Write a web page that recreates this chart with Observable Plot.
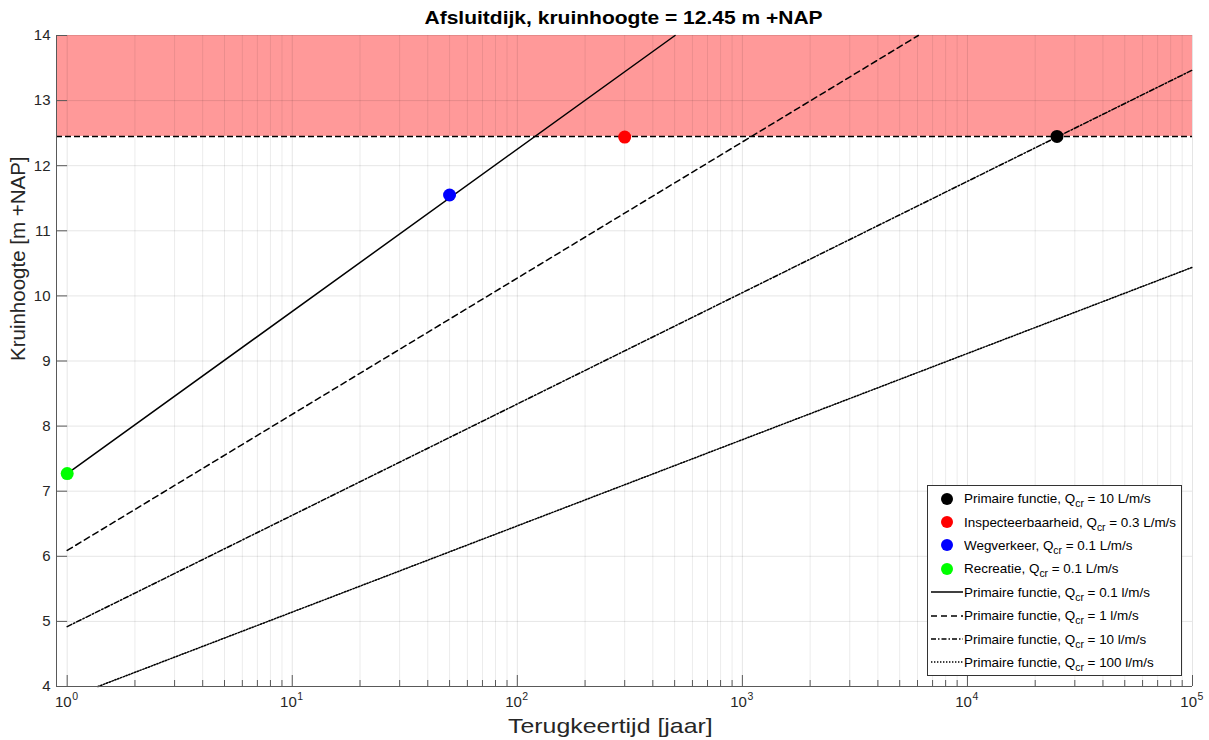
<!DOCTYPE html>
<html>
<head>
<meta charset="utf-8">
<script src="https://cdn.jsdelivr.net/npm/d3@7"></script>
<script src="https://cdn.jsdelivr.net/npm/@observablehq/plot@0.6"></script>
<style>
  html, body { margin: 0; padding: 0; background: #fff; }
  #wrap { position: relative; width: 1209px; height: 740px; overflow: hidden; font-family: "Liberation Sans", Arial, Helvetica, sans-serif; }
  #legend { position: absolute; left: 927px; top: 485px; width: 255px; height: 191px; border: 1px solid #333; background: #fff; box-sizing: border-box; padding-top: 1px; overflow: hidden; }
  .row { height: 23.4px; display: flex; align-items: center; font-size: 13px; color: #000; white-space: nowrap; }
  .row svg { flex: 0 0 auto; margin-left: 2px; margin-right: 0px; }
  .row span { display: inline-block; transform-origin: left center; }
  .row sub { font-size: 10px; vertical-align: -4px; line-height: 0; }
  .hlabel { position: absolute; white-space: nowrap; transform-origin: center center; }
  #title { top: 8px; font-size: 18px; font-weight: bold; line-height: 20px; color: #000; }
  #xlabel { top: 714px; font-size: 21px; line-height: 24px; color: #262626; }
</style>
</head>
<body>
<div id="wrap"></div>
<script>
// ---- data ----
const title = "Afsluitdijk, kruinhoogte = 12.45 m +NAP";
const xLabel = "Terugkeertijd [jaar]";
const yLabel = "Kruinhoogte [m +NAP]";
const crestHeight = 12.45;

const xDomain = [0.8963, 1e5];
const yDomain = [4, 14];
const xMajorTicks = [1, 10, 100, 1000, 10000, 100000];
const xTickExponents = ["0", "1", "2", "3", "4", "5"];
const yTicks = [4, 5, 6, 7, 8, 9, 10, 11, 12, 13, 14];

// scatter points (norm points)
const pointNames = ["Primaire functie", "Inspecteerbaarheid", "Wegverkeer", "Recreatie"];
const pointQcr = ["10 L/m/s", "0.3 L/m/s", "0.1 L/m/s", "0.1 L/m/s"];
const pointT = [25000, 300, 50, 1];
const pointH = [12.45, 12.44, 11.55, 7.27];
const pointColors = ["#000000", "#ff0000", "#0000ff", "#00ff00"];

const lineQcr = ["0.1 l/m/s", "1 l/m/s", "10 l/m/s", "100 l/m/s"];
const lineStartT = [1, 1, 1, 1.37];
const lineStartH = [7.27, 6.09, 4.92, 4.0];
const lineEndT = [502, 6050, 100000, 100000];
const lineEndH = [14.0, 14.0, 13.47, 10.44];
const lineDash = ["none", "6,4", "5,2,1.5,2", "1.4,1.6"];

// ---- build tables ----
const xMinorTicks = [];
for (let k = 0; k < 5; k++) for (let m = 2; m <= 9; m++) xMinorTicks.push(m * Math.pow(10, k));

const points = pointNames.map((n, i) => ({name: n, T: pointT[i], H: pointH[i]}));
const lines = lineQcr.map((q, i) => [
  {q, T: lineStartT[i], H: lineStartH[i]},
  {q, T: lineEndT[i], H: lineEndH[i]}
]);

const W = 1209, H = 740;
const mT = 35, mB = 54, mL = 56, mR = 17;
const frameW = W - mL - mR, frameH = H - mT - mB;
const axisColor = "#595959";
const textColor = "#262626";

const lineMarks = lines.map((d, i) => Plot.line(d, {
  x: "T", y: "H", stroke: "#000", strokeWidth: 1.5,
  strokeDasharray: lineDash[i] === "none" ? null : lineDash[i]
}));

const chart = Plot.plot({
  width: W, height: H,
  marginTop: mT, marginBottom: mB, marginLeft: mL, marginRight: mR,
  x: {type: "log", domain: xDomain, axis: null},
  y: {domain: yDomain, axis: null},
  color: {domain: pointNames, range: pointColors},
  style: {fontFamily: "'Liberation Sans', Arial, Helvetica, sans-serif", background: "#fff", overflow: "visible", color: textColor},
  marks: [
    // unsafe zone above crest height
    Plot.rect([{y1: crestHeight, y2: yDomain[1]}], {y1: "y1", y2: "y2", fill: "#ff9999"}),
    // grid
    Plot.ruleX(xMinorTicks, {stroke: "#000", strokeOpacity: 0.08}),
    Plot.ruleX(xMajorTicks, {stroke: "#000", strokeOpacity: 0.1}),
    Plot.ruleY(yTicks, {stroke: "#000", strokeOpacity: 0.1}),
    // crest height line
    Plot.ruleY([crestHeight], {stroke: "#000", strokeWidth: 1.5, strokeDasharray: "6,3"}),
    ...lineMarks,
    Plot.dot(points, {x: "T", y: "H", fill: "name", r: 6.5}),
    // axes lines
    Plot.ruleX([xDomain[0]], {stroke: axisColor}),
    Plot.ruleY([yDomain[0]], {stroke: axisColor}),
    // inward ticks
    Plot.ruleX(xMajorTicks, {stroke: axisColor, insetTop: frameH - 11}),
    Plot.ruleX(xMinorTicks, {stroke: axisColor, insetTop: frameH - 6}),
    Plot.ruleY(yTicks, {stroke: axisColor, insetRight: frameW - 11}),
    // tick labels
    Plot.text(yTicks, {y: d => d, text: d => String(d), frameAnchor: "left", textAnchor: "end", dx: -6, fontSize: 15, fill: textColor}),
    Plot.text(xMajorTicks, {x: d => d, text: () => "10", frameAnchor: "bottom", textAnchor: "end", dx: 4.5, dy: 20, fontSize: 15, fill: textColor}),
    Plot.text(xMajorTicks, {x: d => d, text: (d, i) => xTickExponents[i], frameAnchor: "bottom", textAnchor: "start", dx: 5, dy: 13, fontSize: 10.5, fill: textColor}),
    // y axis label
    Plot.text([yLabel], {frameAnchor: "left", rotate: -90, dx: -38, fontSize: 20.5, fill: textColor})
  ]
});

const wrap = document.getElementById("wrap");
wrap.appendChild(chart);

// horizontal labels (title above, axis label below), widened to the reference's proportions
function addLabel(id, text, centerX, targetWidth) {
  const el = document.createElement("div");
  el.id = id;
  el.className = "hlabel";
  el.textContent = text;
  wrap.appendChild(el);
  const w = el.offsetWidth;
  const k = targetWidth / w;
  el.style.left = (centerX - w / 2) + "px";
  el.style.transform = `scaleX(${k})`;
}
addLabel("title", title, 623, 398);
addLabel("xlabel", xLabel, 610, 205);

// legend
const legend = document.createElement("div");
legend.id = "legend";
let html = "";
pointNames.forEach((n, i) => {
  html += `<div class="row"><svg width="34" height="20"><circle cx="17" cy="10" r="6" fill="${pointColors[i]}"/></svg><span>${n}, Q<sub>cr</sub> = ${pointQcr[i]}</span></div>`;
});
lineQcr.forEach((q, i) => {
  const dash = lineDash[i] === "none" ? "" : `stroke-dasharray="${lineDash[i]}"`;
  html += `<div class="row"><svg width="34" height="20"><line x1="1" x2="33" y1="10" y2="10" stroke="#000" stroke-width="1.5" ${dash}/></svg><span>Primaire functie, Q<sub>cr</sub> = ${q}</span></div>`;
});
legend.innerHTML = html;
wrap.appendChild(legend);
const spans = legend.querySelectorAll(".row span");
const kLegend = 187 / spans[0].offsetWidth;
spans.forEach(s => { s.style.transform = `scaleX(${kLegend})`; });
</script>
</body>
</html>
